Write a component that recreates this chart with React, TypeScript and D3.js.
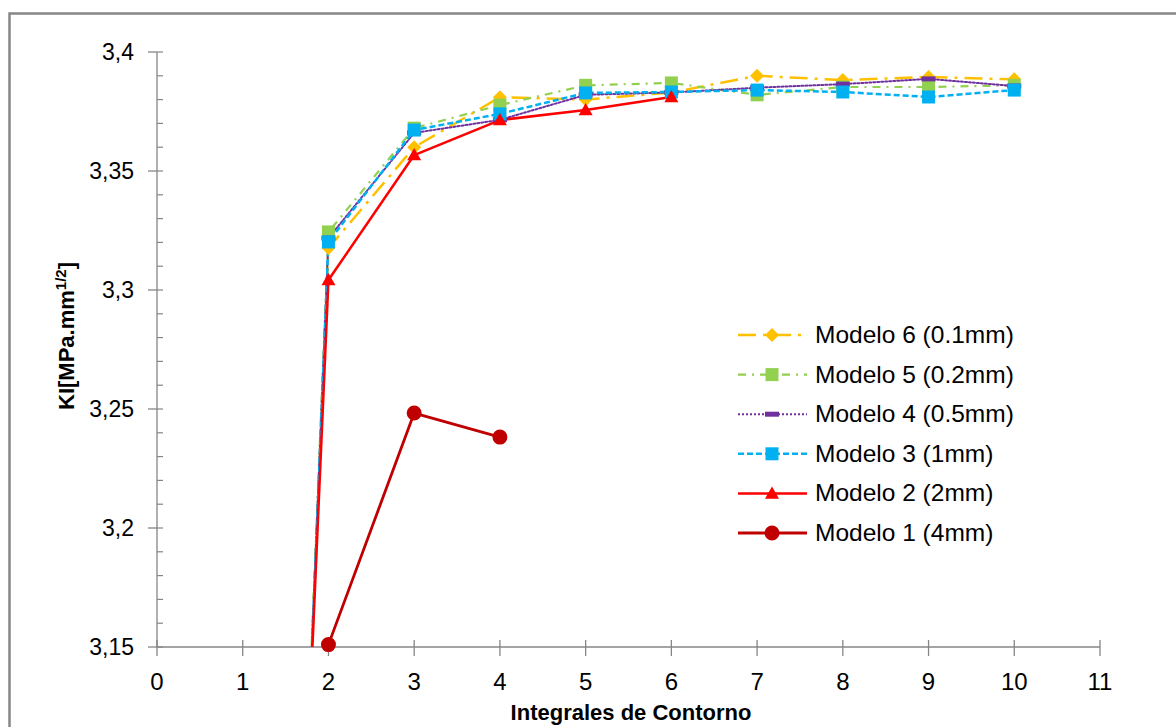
import React from "react";
import * as d3 from "d3";

// Integral de contorno index (x) and KI values per model
const contornos = [1, 2, 3, 4, 5, 6, 7, 8, 9, 10];
const modelo6 = [2.45, 3.3176, 3.36, 3.381, 3.38, 3.383, 3.39, 3.3882, 3.3895, 3.3885];
const modelo5 = [2.44, 3.3244, 3.368, 3.3777, 3.386, 3.387, 3.382, 3.3853, 3.3853, 3.386];
const modelo4 = [2.44, 3.3218, 3.366, 3.3715, 3.382, 3.383, 3.385, 3.3865, 3.3887, 3.3857];
const modelo3 = [2.43, 3.3202, 3.3672, 3.374, 3.3828, 3.3832, 3.384, 3.3832, 3.3811, 3.384];
const modelo2 = [2.48, 3.3042, 3.3567, 3.3714, 3.3756, 3.3811];
const modelo1x = [2, 3, 4];
const modelo1 = [3.151, 3.2483, 3.2382];

const xTicks = [0, 1, 2, 3, 4, 5, 6, 7, 8, 9, 10, 11];
const yTicks = [3.15, 3.2, 3.25, 3.3, 3.35, 3.4];

const series = [
  { name: "Modelo 6 (0.1mm)", xs: contornos, ys: modelo6, color: "#FFC000", dash: "18,7,3,7", marker: "diamond", width: 2.5 },
  { name: "Modelo 5 (0.2mm)", xs: contornos, ys: modelo5, color: "#92D050", dash: "8,6,2,6", marker: "square", width: 2.2 },
  { name: "Modelo 4 (0.5mm)", xs: contornos, ys: modelo4, color: "#7030A0", dash: "2,2", marker: "dash", width: 2 },
  { name: "Modelo 3 (1mm)", xs: contornos, ys: modelo3, color: "#00B0F0", dash: "6,3", marker: "square", width: 2.5 },
  { name: "Modelo 2 (2mm)", xs: contornos.slice(0, 6), ys: modelo2, color: "#FF0000", dash: "none", marker: "triangle", width: 2.5 },
  { name: "Modelo 1 (4mm)", xs: modelo1x, ys: modelo1, color: "#C00000", dash: "none", marker: "circle", width: 2.8 },
];

const W = 1176;
const H = 727;

const x = d3.scaleLinear().domain([0, 11]).range([157, 1100]);
const y = d3.scaleLinear().domain([3.15, 3.4]).range([647, 52]);

const commaFmt = d3.formatLocale({ decimal: ",", thousands: ".", grouping: [3], currency: ["", ""] }).format("~g");

function markerPath(kind: string, cx: number, cy: number, s: number) {
  const p = d3.path();
  const h = s / 2;
  if (kind === "diamond") {
    p.moveTo(cx, cy - h);
    p.lineTo(cx + h, cy);
    p.lineTo(cx, cy + h);
    p.lineTo(cx - h, cy);
    p.closePath();
  } else if (kind === "square") {
    p.rect(cx - h + 0.5, cy - h + 0.5, s - 1, s - 1);
  } else if (kind === "dash") {
    p.rect(cx - h, cy - 2.5, s, 5);
  } else if (kind === "triangle") {
    p.moveTo(cx, cy - h);
    p.lineTo(cx + h, cy + h * 0.75);
    p.lineTo(cx - h, cy + h * 0.75);
    p.closePath();
  } else {
    p.arc(cx, cy, h, 0, Math.PI * 2);
  }
  return p.toString();
}

export default function App() {
  const line = d3
    .line<[number, number]>()
    .x((d) => x(d[0]))
    .y((d) => y(d[1]));

  const minorTicks = d3.range(0, 26).map((i) => 3.15 + i * 0.01);
  const legendY = d3.scaleLinear().domain([0, 5]).range([335, 533]);

  return (
    <div style={{ position: "fixed", left: 0, top: 0 }}>
      <svg width={W} height={H} style={{ display: "block", background: "#fff" }}>
        <defs>
          <clipPath id="plot">
            <rect x={157} y={40} width={943} height={607} />
          </clipPath>
        </defs>
        {/* outer frame */}
        <path d={`M9.5,${H} V13.5 H${W}`} fill="none" stroke="#878787" strokeWidth={2.5} />

        {/* y axis */}
        <line x1={157} x2={157} y1={52} y2={647} stroke="#868686" strokeWidth={1.3} />
        {minorTicks.map((t, i) => (
          <line key={"m" + i} x1={157} x2={163} y1={y(t)} y2={y(t)} stroke="#868686" strokeWidth={1.2} />
        ))}
        {yTicks.map((t) => (
          <g key={"y" + t}>
            <line x1={148} x2={157} y1={y(t)} y2={y(t)} stroke="#868686" strokeWidth={1.3} />
            <text x={134} y={y(t) + 8} textAnchor="end" fontFamily="Liberation Sans, Arial, sans-serif" fontSize={23} fill="#000">
              {commaFmt(t)}
            </text>
          </g>
        ))}

        {/* x axis */}
        <line x1={157} x2={1100} y1={647} y2={647} stroke="#868686" strokeWidth={1.3} />
        {xTicks.map((t) => (
          <g key={"x" + t}>
            <line x1={x(t)} x2={x(t)} y1={640} y2={656} stroke="#868686" strokeWidth={1.3} />
            <text x={x(t)} y={690} textAnchor="middle" fontFamily="Liberation Sans Narrow, Arial Narrow, sans-serif" fontSize={24} fill="#000">
              {t}
            </text>
          </g>
        ))}

        {/* axis titles */}
        <text x={631} y={720} textAnchor="middle" fontFamily="Liberation Sans Narrow, Arial Narrow, sans-serif" fontWeight="bold" fontSize={22} fill="#000">
          Integrales de Contorno
        </text>
        <text transform="translate(74,336) rotate(-90)" textAnchor="middle" fontFamily="Liberation Sans Narrow, Arial Narrow, sans-serif" fontWeight="bold" fontSize={22} fill="#000">
          KI[MPa.mm<tspan fontSize={15} dy={-8}>1/2</tspan><tspan dy={8}>]</tspan>
        </text>

        {/* series lines */}
        <g clipPath="url(#plot)">
          {series.map((s) => (
            <path
              key={s.name}
              d={line(s.xs.map((v, i) => [v, s.ys[i]] as [number, number])) || ""}
              fill="none"
              stroke={s.color}
              strokeWidth={s.width}
              strokeDasharray={s.dash}
              strokeLinecap={s.marker === "dash" ? "round" : "butt"}
              strokeLinejoin="round"
            />
          ))}
        </g>
        {/* markers */}
        {series.map((s) => (
          <g key={s.name + "m"} fill={s.color}>
            {s.xs.map((v, i) =>
              s.ys[i] >= 3.15 ? <path key={i} d={markerPath(s.marker, x(v), y(s.ys[i]), s.marker === "circle" ? 15 : 14)} /> : null
            )}
          </g>
        ))}

        {/* legend */}
        {series.map((s, i) => {
          const ly = legendY(i);
          return (
            <g key={s.name + "l"}>
              <line x1={738} x2={807} y1={ly} y2={ly} stroke={s.color} strokeWidth={s.width} strokeDasharray={s.dash} />
              <path d={markerPath(s.marker, 772, ly, s.marker === "circle" ? 15 : 14)} fill={s.color} />
              <text x={815} y={ly + 8} fontFamily="Liberation Sans, Arial, sans-serif" fontSize={24.5} fill="#000">
                {s.name}
              </text>
            </g>
          );
        })}
      </svg>
    </div>
  );
}
